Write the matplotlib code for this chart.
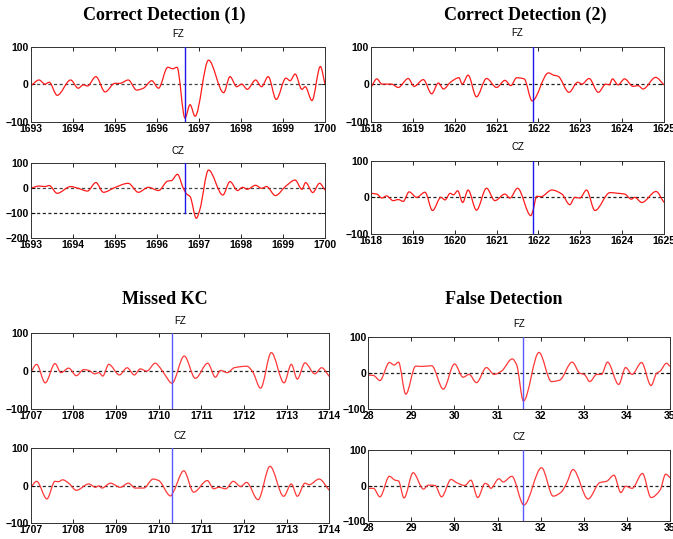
import matplotlib
matplotlib.use("Agg")
import matplotlib.pyplot as plt
from matplotlib.path import Path
from matplotlib.patches import PathPatch

W, H = 673, 539

# ---------------- data ----------------
cd1_fz_t = [1693.0, 1693.2, 1693.34, 1693.44, 1693.63, 1693.95, 1694.13, 1694.25, 1694.35, 1694.55, 1694.77, 1695.0, 1695.12,
            1695.32, 1695.52, 1695.68, 1695.88, 1696.04, 1696.26, 1696.38, 1696.48, 1696.67, 1696.79, 1696.91, 1697.23, 1697.59,
            1697.74, 1697.9, 1698.02, 1698.15, 1698.35, 1698.49, 1698.65, 1698.84, 1699.07, 1699.17, 1699.29, 1699.45, 1699.53,
            1699.69, 1699.89, 1700.0]
cd1_fz_v = [-5, 11, 0, 5, -30, 11, -11, -2, -5, 20, -21, 2, 2,
            11, -16, -11, 9, -11, 45, 41, 45, -91, -55, -86, 64, -23,
            20, -7, 0, -14, 11, -7, 20, -41, 16, 9, 27, -14, -7,
            -44, 47, 0]

cd1_cz_t = [1693.0, 1693.2, 1693.34, 1693.44, 1693.63, 1693.95, 1694.13, 1694.35, 1694.55, 1694.73, 1695.0, 1695.32, 1695.56,
            1695.8, 1696.04, 1696.26, 1696.35, 1696.49, 1696.63, 1696.71, 1696.79, 1696.94, 1697.02, 1697.23, 1697.57, 1697.74,
            1697.92, 1698.04, 1698.15, 1698.35, 1698.49, 1698.61, 1698.82, 1699.07, 1699.29, 1699.45, 1699.54, 1699.71, 1699.87,
            1700.0]
cd1_cz_v = [0, 9, 7, 11, -20, 7, 0, -11, 23, -16, 3, 20, -16,
            4, -9, 29, 31, 56, 0, -23, -33, -120, -87, 73, -27, 27,
            -9, 4, -4, 12, 0, 7, -29, 9, 33, -4, 23, -17, 20,
            -7]

cd2_fz_t = [1618.0, 1618.14, 1618.26, 1618.49, 1618.65, 1618.89, 1619.03, 1619.25, 1619.45, 1619.61, 1619.73, 1619.91, 1620.1,
            1620.18, 1620.32, 1620.52, 1620.76, 1621.0, 1621.2, 1621.34, 1621.48, 1621.66, 1621.85, 1622.24, 1622.36, 1622.47,
            1622.73, 1622.94, 1623.04, 1623.21, 1623.43, 1623.61, 1623.69, 1623.77, 1623.9, 1624.06, 1624.26, 1624.38, 1624.5,
            1624.8, 1625.0]
cd2_fz_v = [-9, 14, 0, 0, -9, 15, -6, 12, -26, 3, -13, 6, 17,
            0, 24, -34, 15, -9, 10, -4, 17, 14, -45, 30, 24, 21,
            -22, 5, 0, 15, -22, 0, -2, 14, -2, 14, -6, -4, -13,
            18, -2]

cd2_cz_t = [1618.0, 1618.14, 1618.26, 1618.37, 1618.53, 1618.65, 1618.77, 1618.91, 1619.09, 1619.29, 1619.47, 1619.67, 1619.77,
            1619.89, 1619.97, 1620.07, 1620.19, 1620.32, 1620.52, 1620.76, 1620.96, 1621.2, 1621.32, 1621.5, 1621.82, 1621.87,
            1621.96, 1622.06, 1622.32, 1622.56, 1622.75, 1622.87, 1622.99, 1623.15, 1623.35, 1623.71, 1623.9, 1624.06, 1624.22,
            1624.3, 1624.47, 1624.81, 1625.0]
cd2_cz_v = [11, 9, -2, 4, -9, -6, -11, 15, 0, 14, -36, 0, -7,
            11, 7, 18, -14, 20, -35, 25, -9, 9, -2, 25, -50, -36,
            3, 2, 20, 9, -20, 0, -2, 20, -36, 13, 11, 9, -5,
            0, -14, 16, -14]

mk_fz_t = [1707.0, 1707.14, 1707.34, 1707.57, 1707.71, 1707.89, 1708.07, 1708.24, 1708.36, 1708.5, 1708.6, 1708.69, 1708.83,
           1709.08, 1709.26, 1709.43, 1709.57, 1709.72, 1709.92, 1710.04, 1710.16, 1710.31, 1710.6, 1710.86, 1711.15, 1711.33,
           1711.45, 1711.61, 1711.77, 1712.07, 1712.2, 1712.39, 1712.64, 1712.94, 1713.11, 1713.25, 1713.43, 1713.66, 1713.82,
           1714.0]
mk_fz_v = [-3, 18, -31, 20, -4, 8, -12, 4, 2, -7, -4, -13, 18,
           -10, 9, -10, 6, 0, 21, 8, -12, -32, 40, -19, 21, -16,
           2, -4, 9, 13, -1, -45, 49, -31, 18, -21, 22, -7, 9,
           -14]

mk_cz_t = [1707.0, 1707.14, 1707.38, 1707.57, 1707.65, 1707.75, 1707.89, 1708.07, 1708.36, 1708.52, 1708.6, 1708.67, 1708.87,
           1709.1, 1709.29, 1709.45, 1709.65, 1709.87, 1710.0, 1710.28, 1710.35, 1710.59, 1710.82, 1711.14, 1711.29, 1711.41,
           1711.57, 1711.75, 1711.92, 1712.06, 1712.33, 1712.61, 1712.93, 1713.11, 1713.25, 1713.43, 1713.53, 1713.76, 1714.0]
mk_cz_v = [-4, 12, -35, 12, 11, 16, 7, -12, 5, -4, 0, -6, 7,
           -4, 7, -6, -6, 18, 14, -27, -15, 40, -17, 14, -8, -4,
           -8, 12, -2, 9, -37, 52, -28, 5, -28, 7, 3, 18, -12]

fd_fz_t = [28.0, 28.12, 28.27, 28.49, 28.6, 28.7, 28.87, 29.1, 29.25, 29.47, 29.74, 30.0, 30.2,
           30.34, 30.51, 30.74, 30.92, 31.09, 31.34, 31.44, 31.6, 31.96, 32.25, 32.44, 32.73, 32.91,
           33.01, 33.14, 33.3, 33.41, 33.55, 33.81, 33.97, 34.12, 34.34, 34.56, 34.69, 34.77, 34.92, 35.0]
fd_fz_v = [-5, -6, -20, 30, 23, 31, -58, 20, 19, 21, -44, 26, -11,
           -3, -26, 16, -3, 6, 40, 24, -77, 58, -23, -19, 31, 0,
           -3, -23, -3, -3, 31, -31, 16, -3, 30, -34, 0, 6, 28, 19]

fd_cz_t = [28.0, 28.12, 28.27, 28.49, 28.62, 28.7, 28.83, 29.04, 29.28, 29.39, 29.55, 29.7, 29.92, 30.05,
           30.24, 30.38, 30.54, 30.71, 30.78, 30.84, 31.03, 31.13, 31.33, 31.61, 32.02, 32.29, 32.48,
           32.6, 32.75, 33.1, 33.37, 33.53, 33.7, 33.86, 33.97, 34.12, 34.36, 34.56, 34.77, 34.9, 35.0]
fd_cz_v = [-8, -8, -32, 26, 15, 13, -35, 36, -10, 1, 0, -32, 17, 8,
           0, 15, -34, 6, 2, -8, 19, 10, 26, -55, 50, -30, -18,
           6, 45, -38, 8, 12, 29, -20, -2, -8, 34, -34, -13, 32, 22]

panel_titles = ["Correct Detection (1)", "Correct Detection (2)", "Missed KC", "False Detection"]
channel_names = ["FZ", "CZ"]
markers_t = [1696.67, 1621.86, 1710.31, 31.6]
x_ranges = [(1693, 1700), (1618, 1625), (1707, 1714), (28, 35)]

panels = [
    [(cd1_fz_t, cd1_fz_v), (cd1_cz_t, cd1_cz_v)],
    [(cd2_fz_t, cd2_fz_v), (cd2_cz_t, cd2_cz_v)],
    [(mk_fz_t, mk_fz_v), (mk_cz_t, mk_cz_v)],
    [(fd_fz_t, fd_fz_v), (fd_cz_t, fd_cz_v)],
]

# colours per panel (top row pure, bottom row a little washed out as in the source)
blue_cols = ["#1a1aee", "#1a1aee", "#5a5aff", "#5a5aff"]
red_cols = ["#ff1a1a", "#ff1a1a", "#ff3838", "#ff3838"]
dash_cols = ["#444444", "#222222", "#222222", "#222222"]


def smooth_path(t, v):
    """Smooth (Hermite / Bezier) rendering of the polyline through the read points."""
    n = len(t)
    m = []
    for i in range(n):
        if i == 0:
            s = (v[1] - v[0]) / (t[1] - t[0])
        elif i == n - 1:
            s = (v[-1] - v[-2]) / (t[-1] - t[-2])
        else:
            d0 = (v[i] - v[i - 1]) / (t[i] - t[i - 1])
            d1 = (v[i + 1] - v[i]) / (t[i + 1] - t[i])
            if d0 * d1 <= 0:
                s = 0.0
            else:
                w0 = 2 * (t[i + 1] - t[i]) + (t[i] - t[i - 1])
                w1 = (t[i + 1] - t[i]) + 2 * (t[i] - t[i - 1])
                s = (w0 + w1) / (w0 / d0 + w1 / d1)
        m.append(s)
    verts = [(t[0], v[0])]
    codes = [Path.MOVETO]
    for i in range(n - 1):
        h = t[i + 1] - t[i]
        verts += [(t[i] + h / 3, v[i] + m[i] * h / 3),
                  (t[i + 1] - h / 3, v[i + 1] - m[i + 1] * h / 3),
                  (t[i + 1], v[i + 1])]
        codes += [Path.CURVE4] * 3
    return Path(verts, codes)


# ---------------- layout (pixel boxes: left, right, top, bottom) ----------------
boxes = [
    [(30.7, 325.0, 46.7, 121.5), (30.7, 325.0, 163.3, 238.3)],
    [(371.0, 664.0, 46.7, 121.5), (371.0, 664.0, 160.7, 234.0)],
    [(30.7, 329.3, 333.3, 409.0), (30.7, 329.3, 448.3, 523.3)],
    [(368.3, 670.0, 337.3, 409.3), (368.3, 670.0, 450.0, 521.0)],
]
title_pos = [(164, 15), (525, 15), (165, 299), (504, 299)]
sub_y = [[34, 151], [33, 147], [321, 436], [324, 437]]

fig = plt.figure(figsize=(W / 100, H / 100), dpi=100)
fig.patch.set_facecolor("white")

for p in range(4):
    tx, ty = title_pos[p]
    fig.text(tx / W, 1 - ty / H, panel_titles[p], ha="center", va="center",
             fontsize=13, fontweight="bold", family=["Liberation Serif", "DejaVu Serif"])
    for c in range(2):
        l, r, t, b = boxes[p][c]
        ax = fig.add_axes([l / W, 1 - b / H, (r - l) / W, (b - t) / H])
        tt, vv = panels[p][c]
        x0, x1 = x_ranges[p]
        if p == 0 and c == 1:
            ylim = (-200, 100)
            yt = [-200, -100, 0, 100]
        else:
            ylim = (-100, 100)
            yt = [-100, 0, 100]
        ax.axhline(0, color=dash_cols[p], lw=0.9, ls=(0, (2.5, 2)), zorder=1)
        if p == 0 and c == 1:
            ax.axhline(-100, color="#222222", lw=0.9, ls=(0, (2.5, 2)), zorder=1)
            ax.plot([markers_t[p], markers_t[p]], [-100, 100], color=blue_cols[p], lw=1.0, zorder=3)
        else:
            ax.axvline(markers_t[p], color=blue_cols[p], lw=1.0, zorder=3)
        patch = PathPatch(smooth_path(tt, vv), facecolor="none", edgecolor=red_cols[p],
                          lw=0.9, zorder=2, joinstyle="round")
        ax.add_patch(patch)
        ax.set_xlim(x0, x1)
        ax.set_ylim(*ylim)
        ax.set_xticks(range(x0, x1 + 1))
        ax.set_yticks(yt)
        ax.tick_params(direction="in", top=True, right=True, length=3, width=0.6, pad=1.5,
                       labelsize=7.5)
        for lab in ax.get_xticklabels() + ax.get_yticklabels():
            lab.set_family(["Liberation Sans", "DejaVu Sans"])
            lab.set_fontweight("bold")
        for s in ax.spines.values():
            s.set_linewidth(0.7)
            s.set_color("#333333")
        fig.text(((l + r) / 2) / W, 1 - sub_y[p][c] / H, channel_names[c], ha="center", va="center",
                 fontsize=7, family=["Liberation Sans", "DejaVu Sans"])

fig.savefig("out.png", dpi=100, facecolor="white")
